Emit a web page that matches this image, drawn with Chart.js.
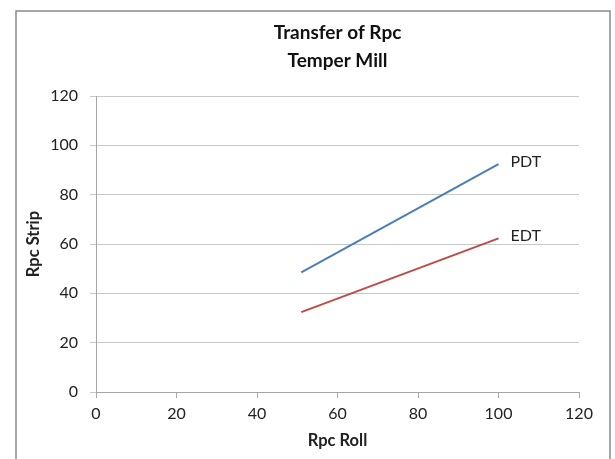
<!DOCTYPE html>
<html>
<head>
<meta charset="utf-8">
<script src="https://cdn.jsdelivr.net/npm/chart.js@4/dist/chart.umd.min.js"></script>
<style>
  html, body { margin: 0; padding: 0; background: #fff; }
  #wrap { width: 615px; height: 459px; position: relative; }
</style>
</head>
<body>
<div id="wrap"><canvas id="c" width="615" height="459"></canvas></div>
<script>
// Rpc transfer on the temper mill: roll roughness vs. strip roughness
const titleLines = ['Transfer of Rpc', 'Temper Mill'];
const rpcRoll = [51, 100];
const pdtStrip = [48.5, 92.4];
const edtStrip = [32.4, 62.3];
const seriesNames = ['PDT', 'EDT'];
const axisTicks = [0, 20, 40, 60, 80, 100, 120];

const FONT = 'Lato, "Open Sans", sans-serif';
const TEXT = '#222222';

function toPoints(xs, ys) {
  return xs.map((x, i) => ({ x: x, y: ys[i] }));
}

// Frame, two-line title and series-name labels at the end of each line
const decorations = {
  id: 'decorations',
  beforeDraw(chart) {
    const ctx = chart.ctx;
    ctx.save();
    ctx.fillStyle = '#ffffff';
    ctx.fillRect(0, 0, chart.width, chart.height);
    ctx.strokeStyle = '#8a8a8a';
    ctx.lineWidth = 1.5;
    ctx.strokeRect(16, 11, 594, 460);
    ctx.restore();
  },
  afterDraw(chart) {
    const ctx = chart.ctx;
    const area = chart.chartArea;
    const cx = (area.left + area.right) / 2;
    ctx.save();
    ctx.fillStyle = '#111111';
    ctx.font = 'bold 19px ' + FONT;
    ctx.textAlign = 'center';
    ctx.textBaseline = 'alphabetic';
    ctx.fillText(titleLines[0], cx, 39);
    ctx.fillText(titleLines[1], cx, 66.5);

    ctx.fillStyle = TEXT;
    ctx.font = '16px ' + FONT;
    ctx.textAlign = 'left';
    chart.data.datasets.forEach((ds, i) => {
      const meta = chart.getDatasetMeta(i);
      const last = meta.data[meta.data.length - 1];
      ctx.fillText(seriesNames[i], last.x + 12, last.y + 2.5);
    });
    ctx.restore();
  }
};

new Chart(document.getElementById('c'), {
  type: 'scatter',
  data: {
    datasets: [
      {
        label: seriesNames[0],
        data: toPoints(rpcRoll, pdtStrip),
        showLine: true,
        borderColor: '#4a7ebb',
        backgroundColor: '#4a7ebb',
        borderWidth: 2,
        pointRadius: 0
      },
      {
        label: seriesNames[1],
        data: toPoints(rpcRoll, edtStrip),
        showLine: true,
        borderColor: '#be4b48',
        backgroundColor: '#be4b48',
        borderWidth: 2,
        pointRadius: 0
      }
    ]
  },
  options: {
    responsive: false,
    animation: false,
    layout: { padding: { top: 96, right: 36, left: 0, bottom: 0 } },
    plugins: {
      legend: { display: false },
      tooltip: { enabled: false },
      title: { display: false }
    },
    scales: {
      x: {
        type: 'linear',
        min: 0,
        max: 120,
        afterBuildTicks(scale) { scale.ticks = axisTicks.map(v => ({ value: v })); },
        afterFit(scale) { scale.height = 67; },
        grid: {
          drawOnChartArea: false,
          drawTicks: true,
          tickLength: 6,
          color: '#a6a6a6'
        },
        border: { color: '#a6a6a6', width: 1 },
        ticks: {
          padding: 6,
          color: TEXT,
          font: { family: FONT, size: 16 }
        },
        title: {
          display: true,
          text: 'Rpc Roll',
          color: TEXT,
          font: { family: FONT, size: 16.5, weight: 'bold' },
          padding: { top: 0, bottom: 8 }
        }
      },
      y: {
        type: 'linear',
        min: 0,
        max: 120,
        afterBuildTicks(scale) { scale.ticks = axisTicks.map(v => ({ value: v })); },
        afterFit(scale) { scale.width = 96; },
        grid: {
          drawOnChartArea: true,
          drawTicks: true,
          tickLength: 6,
          color: '#c8c8c8'
        },
        border: { color: '#a6a6a6', width: 1 },
        ticks: {
          padding: 12,
          color: TEXT,
          font: { family: FONT, size: 16 }
        },
        title: {
          display: true,
          text: 'Rpc Strip',
          color: TEXT,
          font: { family: FONT, size: 16.5, weight: 'bold' },
          padding: { top: 24, bottom: 0 }
        }
      }
    }
  },
  plugins: [decorations]
});
</script>
</body>
</html>
